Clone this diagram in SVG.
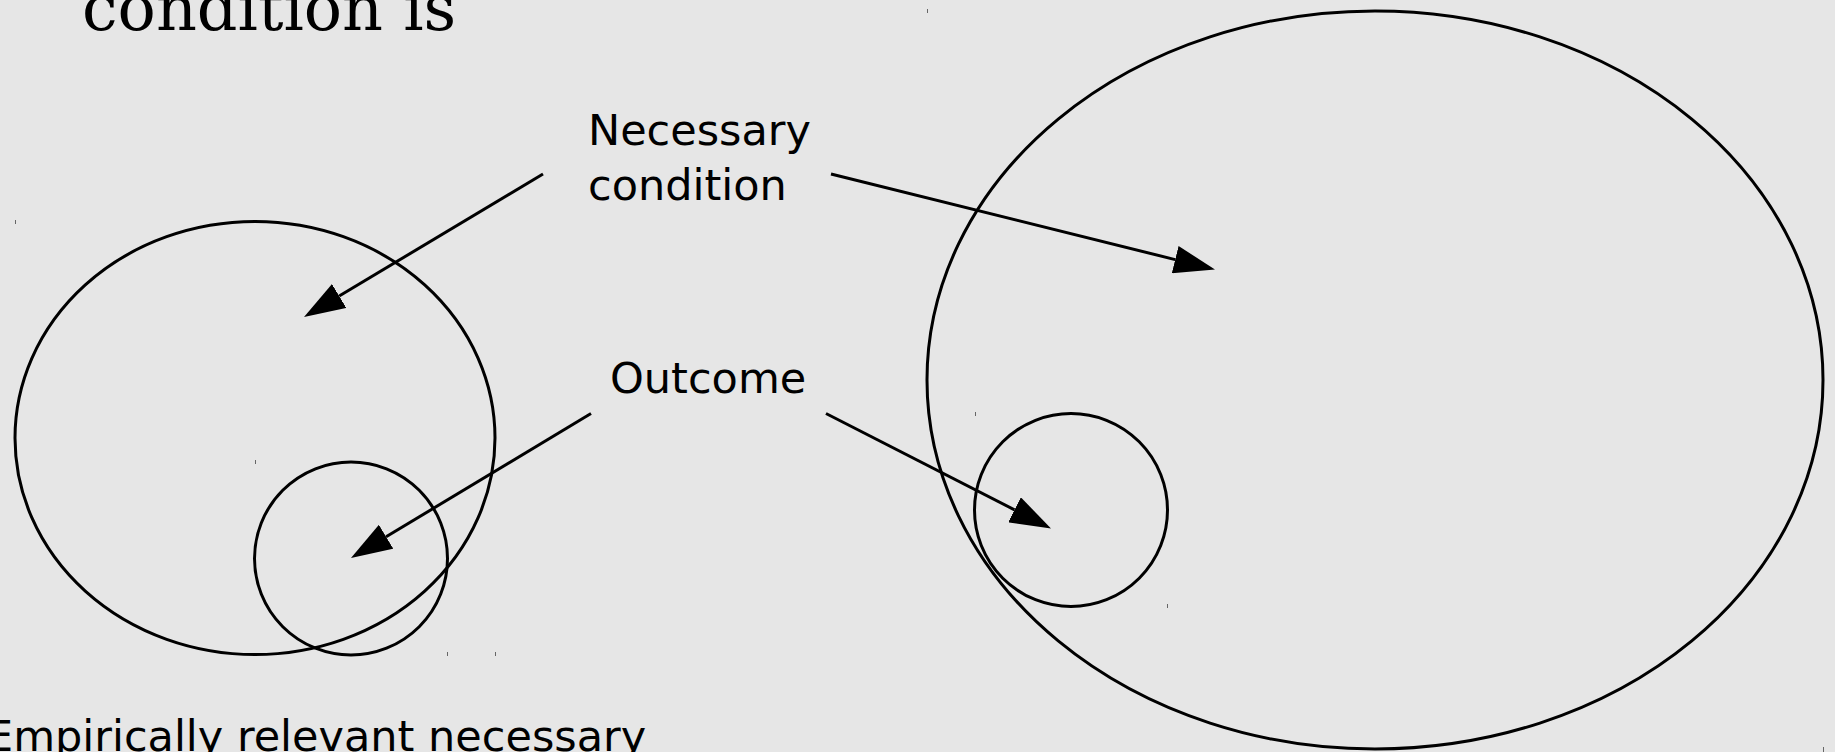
<svg xmlns="http://www.w3.org/2000/svg" width="1835" height="752" viewBox="0 0 1835 752">
  <style>
    .shape { fill: none; stroke: #000; stroke-width: 3; }
    .conn { fill: none; stroke: #000; stroke-width: 3; marker-end: url(#arrow); }
    .lbl { font-family: "DejaVu Sans", "Liberation Sans", sans-serif; font-size: 43px; fill: #000; }
    .title { font-family: "DejaVu Serif", "Liberation Serif", serif; font-size: 63.6px; fill: #000; }
    .tick { stroke: #666; stroke-width: 1; }
  </style>
  <defs>
    <marker id="arrow" viewBox="0 0 41 28" refX="0" refY="14" markerWidth="41" markerHeight="28" markerUnits="userSpaceOnUse" orient="auto">
      <path d="M0,0 L41,14 L0,28 z" fill="#000"/>
    </marker>
  </defs>
  <rect width="1835" height="752" fill="#e6e6e6"/>

  <text class="title" x="82" y="30">condition is</text>

  <g id="left-necessary">
    <ellipse class="shape" cx="255" cy="438" rx="240" ry="216.5"/>
  </g>
  <g id="left-outcome">
    <ellipse class="shape" cx="351" cy="558.5" rx="96.5" ry="96.5"/>
  </g>
  <g id="right-necessary">
    <ellipse class="shape" cx="1375" cy="380" rx="448" ry="369"/>
  </g>
  <g id="right-outcome">
    <ellipse class="shape" cx="1071" cy="510" rx="96.5" ry="96.5"/>
  </g>

  <g id="label-necessary">
    <text class="lbl" x="588" y="145">Necessary</text>
    <text class="lbl" x="588" y="200">condition</text>
  </g>
  <g id="label-outcome">
    <text class="lbl" x="610" y="393">Outcome</text>
  </g>
  <g id="caption">
    <text class="lbl" x="-14" y="751">Empirically relevant necessary</text>
  </g>

  <g id="connectors">
    <line class="conn" x1="543" y1="174" x2="339.2" y2="296"/>
    <line class="conn" x1="831" y1="174" x2="1175.2" y2="259.6"/>
    <line class="conn" x1="591" y1="413.5" x2="386.1" y2="536.8"/>
    <line class="conn" x1="826" y1="413.5" x2="1014.5" y2="509.8"/>
  </g>

  <g id="ticks">
    <line class="tick" x1="927.5" y1="9" x2="927.5" y2="13"/>
    <line class="tick" x1="15.5" y1="220" x2="15.5" y2="224"/>
    <line class="tick" x1="255.5" y1="460" x2="255.5" y2="464"/>
    <line class="tick" x1="447.5" y1="652" x2="447.5" y2="656"/>
    <line class="tick" x1="495.5" y1="652" x2="495.5" y2="656"/>
    <line class="tick" x1="975.5" y1="412" x2="975.5" y2="416"/>
    <line class="tick" x1="1167.5" y1="604" x2="1167.5" y2="608"/>
    <line class="tick" x1="1823.5" y1="747" x2="1823.5" y2="752"/>
  </g>
</svg>
